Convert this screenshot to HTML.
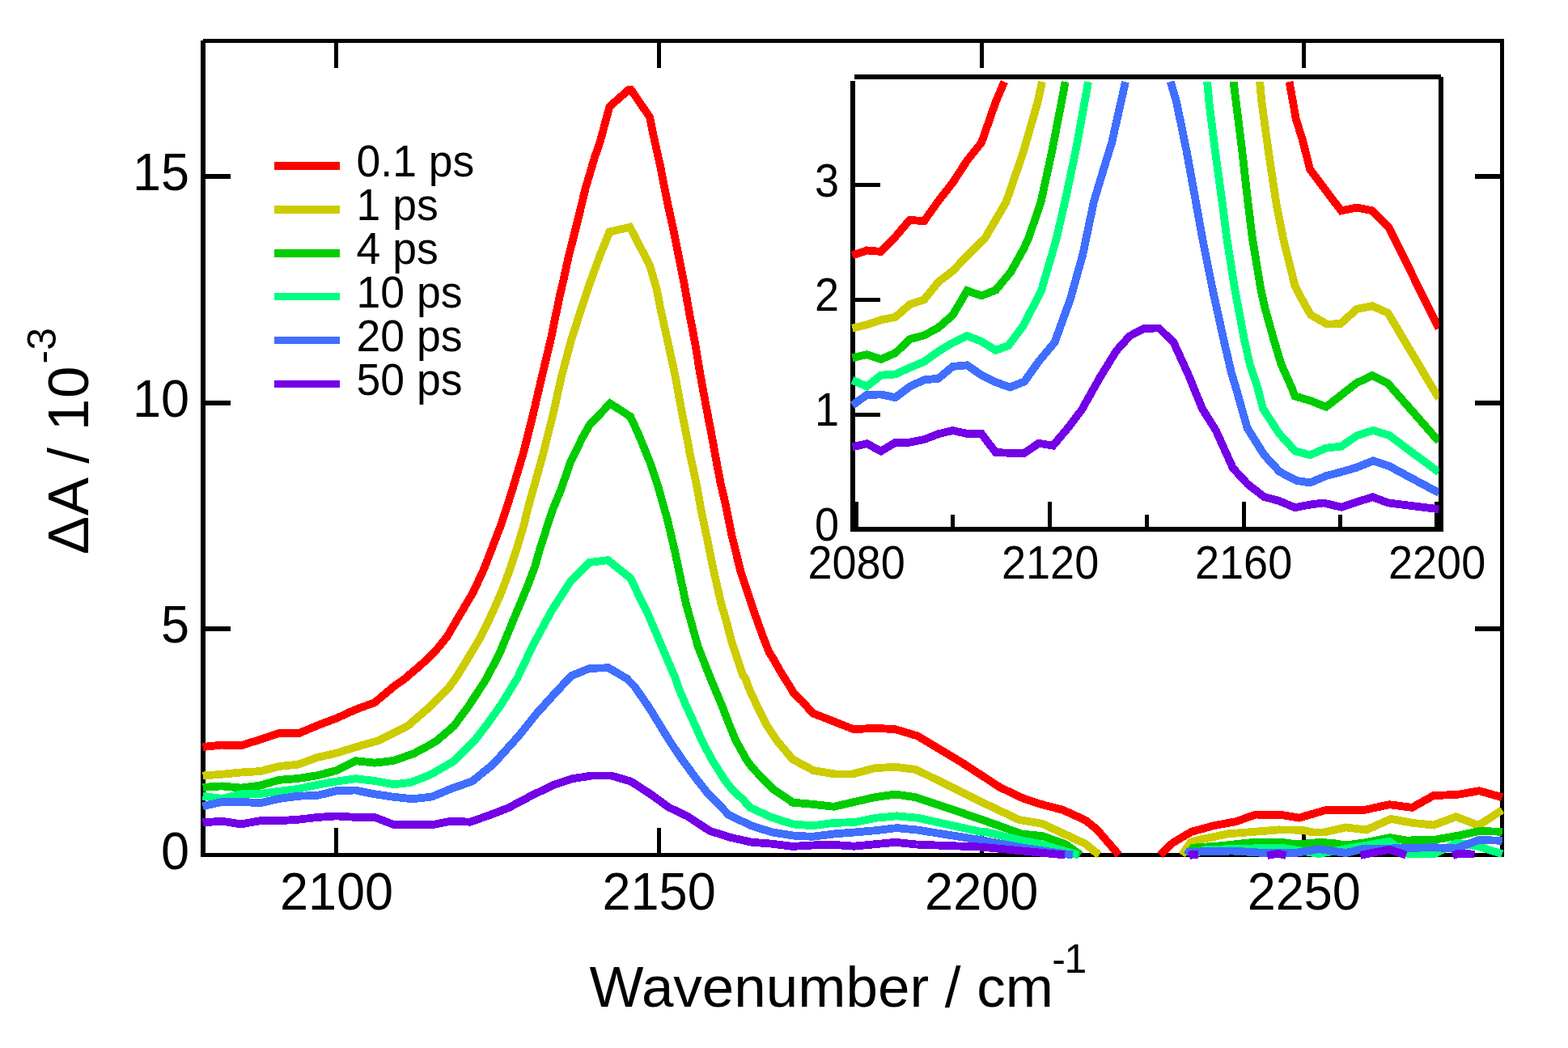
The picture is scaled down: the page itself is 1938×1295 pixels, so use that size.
<!DOCTYPE html>
<html><head><meta charset="utf-8"><title>Transient IR spectra</title>
<style>html,body{margin:0;padding:0;background:#fff;overflow:hidden}svg{display:block}</style>
</head><body>
<svg width="1938" height="1295" viewBox="0 0 1938 1295" shape-rendering="crispEdges"><rect x="0" y="0" width="1938" height="1295" fill="#fff"/>
<g fill="#000">
<rect x="248" y="50" width="6" height="1009"/>
<rect x="251" y="48" width="1608" height="5"/>
<rect x="1854" y="48" width="5" height="1011"/>
<rect x="248" y="1054" width="1611" height="5"/>
<rect x="413.3" y="1023" width="5" height="31"/>
<rect x="413.3" y="53" width="5" height="31"/>
<rect x="811.9" y="1023" width="5" height="31"/>
<rect x="811.9" y="53" width="5" height="31"/>
<rect x="1210.5" y="1023" width="5" height="31"/>
<rect x="1210.5" y="53" width="5" height="31"/>
<rect x="1609.1" y="1023" width="5" height="31"/>
<rect x="1609.1" y="53" width="5" height="31"/>
<rect x="254" y="774.0" width="31" height="6"/>
<rect x="1823" y="774.0" width="31" height="6"/>
<rect x="254" y="494.9" width="31" height="6"/>
<rect x="1823" y="494.9" width="31" height="6"/>
<rect x="254" y="214.9" width="31" height="6"/>
<rect x="1823" y="214.9" width="31" height="6"/>
</g>
<g fill="none" stroke-width="9.8" stroke-linejoin="miter" stroke-miterlimit="1.45" stroke-linecap="butt">
<polyline stroke="#ff0000" points="250.6,923.0 274.3,920.6 297.9,921.2 321.5,913.9 345.1,905.8 368.7,906.4 392.2,896.5 415.8,887.6 439.5,876.8 463.1,868.1 486.7,848.3 500.8,838.4 504.9,834.6 517.8,823.8 530.3,812.4 540.5,801.6 552.5,786.9 568.8,759.0 585.2,731.2 598.0,703.4 608.8,675.6 619.5,647.8 628.6,620.0 634.8,600.0 647.1,559.0 658.7,512.7 669.5,466.3 680.6,420.0 692.4,362.9 695.6,349.9 702.6,317.8 709.7,289.7 716.7,261.6 723.7,232.5 729.7,212.4 735.3,193.4 741.4,176.3 747.8,152.2 753.4,131.8 778.8,109.3 803.1,144.8 807.6,167.1 816.1,205.2 823.9,245.4 831.7,281.2 838.9,317.0 845.6,350.6 852.3,388.7 858.7,421.7 865.6,463.4 873.3,505.1 881.3,546.9 884.5,565.0 890.6,597.1 896.4,621.7 904.8,663.4 915.2,705.1 926.6,740.0 933.8,761.0 943.3,787.6 950.4,805.5 956.6,815.4 962.8,826.5 969.5,837.9 970.0,838.4 976.2,848.3 980.7,856.2 991.6,866.6 1004.3,881.2 1055.4,901.3 1081.1,899.7 1106.8,901.3 1133.8,909.3 1187.8,941.6 1235.1,972.4 1261.5,985.3 1285.1,993.4 1313.5,1000.8 1341.5,1013.5 1355.8,1025.0 1383.0,1056.5"/>
<polyline stroke="#ff0000" points="1433.9,1056.5 1449.5,1041.5 1472.4,1027.9 1500.3,1020.2 1526.9,1015.3 1552.3,1006.6 1583.3,1006.9 1605.6,1010.6 1637.4,1001.4 1663.4,1001.0 1685.7,1001.0 1717.3,994.2 1745.2,997.9 1771.8,983.1 1788.5,982.4 1803.4,981.6 1828.1,977.2 1856.6,985.3"/>
<polyline stroke="#cccc00" points="250.6,958.5 274.3,956.8 297.9,954.5 321.5,953.1 345.1,947.0 368.7,944.6 392.2,936.0 415.8,930.6 439.5,923.3 468.4,914.9 503.8,897.1 532.1,872.7 555.8,848.3 563.0,838.4 575.1,819.0 594.2,786.9 607.7,759.0 620.0,731.2 630.4,703.4 639.4,675.6 647.8,647.8 652.5,627.8 660.4,600.0 671.8,559.0 683.4,512.7 693.7,466.3 706.1,420.0 719.5,378.4 730.0,347.4 741.2,316.4 753.4,286.5 778.5,280.7 803.3,328.2 811.6,357.3 816.0,380.0 825.3,421.7 834.3,463.4 842.0,505.1 850.3,546.9 852.5,560.0 860.6,597.1 866.5,630.0 874.5,668.0 882.0,705.0 891.6,746.9 897.3,766.0 903.7,790.7 911.8,815.4 918.5,835.0 921.5,838.4 924.6,848.3 935.9,872.7 948.3,897.1 960.0,914.9 970.4,927.1 979.4,938.0 992.7,945.4 1005.3,952.0 1032.0,956.5 1054.1,956.4 1081.1,949.2 1106.8,947.7 1132.6,951.1 1211.3,990.2 1259.5,1013.0 1287.8,1017.7 1341.5,1042.7 1358.5,1056.5"/>
<polyline stroke="#cccc00" points="1460.7,1056.5 1471.8,1040.9 1478.6,1038.5 1517.6,1030.4 1580.8,1025.4 1608.7,1025.7 1622.9,1028.5 1636.2,1028.6 1663.4,1022.4 1688.8,1025.5 1719.2,1011.9 1746.4,1016.9 1771.8,1019.6 1799.7,1009.2 1827.5,1020.0 1856.6,1000.8"/>
<polyline stroke="#00cc00" points="250.6,972.9 274.3,971.4 297.9,973.6 321.5,970.6 345.1,963.8 368.7,962.0 392.2,958.2 415.8,952.1 439.5,940.2 463.1,942.7 486.7,939.9 511.5,931.1 532.1,920.1 540.4,914.9 561.0,897.1 579.0,872.7 595.0,848.3 601.3,838.4 617.5,807.3 635.2,764.5 651.9,724.6 661.2,700.0 666.8,680.0 682.6,630.9 693.4,604.9 704.9,571.5 719.8,540.8 729.0,524.6 754.1,498.6 779.2,514.8 789.4,537.1 803.4,571.5 813.6,602.1 824.7,641.1 833.9,680.0 838.1,700.0 847.9,746.0 862.7,798.9 878.2,838.4 882.4,848.3 892.6,872.7 902.0,897.1 909.4,914.9 923.0,939.3 929.8,948.5 944.2,963.7 956.6,975.9 975.1,988.2 979.2,991.6 1004.3,993.8 1030.6,996.8 1080.6,985.3 1107.1,981.5 1132.0,985.3 1211.3,1012.0 1263.1,1030.6 1288.5,1033.1 1317.0,1043.2 1335.5,1056.5"/>
<polyline stroke="#00cc00" points="1467.5,1056.5 1474.3,1047.7 1507.7,1045.3 1548.6,1040.9 1583.3,1040.6 1603.1,1043.4 1630.0,1041.0 1644.9,1041.6 1663.4,1044.4 1686.3,1041.4 1717.9,1035.2 1738.4,1038.5 1772.4,1037.9 1803.4,1032.4 1828.1,1027.0 1856.6,1027.8"/>
<polyline stroke="#00ff80" points="250.6,983.8 274.3,986.9 297.9,981.4 321.5,981.0 345.1,977.8 368.7,974.8 392.2,969.8 415.8,965.6 439.5,962.2 463.1,964.9 486.7,969.2 507.4,967.0 532.0,957.3 561.7,940.2 586.4,915.3 602.9,893.9 619.3,870.8 639.1,838.5 658.4,798.0 682.5,753.4 704.8,719.0 729.0,694.9 751.3,692.1 779.1,714.4 800.5,758.0 817.2,797.0 834.9,838.4 838.0,848.3 848.3,872.7 859.6,897.1 867.3,914.9 880.2,939.3 895.7,963.7 905.0,975.9 918.5,988.2 926.7,997.7 953.5,1009.9 980.0,1018.4 1004.3,1020.3 1030.6,1016.9 1055.7,1016.1 1082.1,1010.8 1108.4,1008.3 1134.8,1010.8 1211.3,1027.6 1217.6,1027.8 1261.0,1038.3 1285.1,1042.8 1333.0,1056.5"/>
<polyline stroke="#00ff80" points="1470.0,1056.5 1490.0,1050.0 1583.3,1047.5 1630.0,1055.0 1663.4,1049.1 1716.7,1039.8 1739.0,1054.6 1772.4,1055.3 1800.9,1041.6 1828.1,1046.0 1856.6,1055.3"/>
<polyline stroke="#406eff" points="250.6,996.1 274.3,991.0 297.9,990.8 321.5,992.3 345.1,987.0 368.7,983.7 392.2,983.0 415.8,977.2 439.5,976.5 463.1,981.3 486.7,984.8 510.3,987.3 533.9,984.5 557.4,974.7 583.7,965.4 609.4,944.5 618.0,935.0 641.6,908.8 662.6,882.5 686.3,856.3 706.2,835.0 729.0,825.8 752.2,825.3 774.5,838.4 784.3,848.3 801.2,872.7 816.3,897.1 827.1,914.9 843.6,939.3 861.7,963.7 874.5,980.0 882.8,988.2 900.9,1007.1 928.7,1020.3 954.4,1028.5 982.3,1032.8 1004.3,1033.8 1030.6,1030.5 1057.0,1028.4 1080.6,1026.4 1108.4,1023.1 1133.5,1025.5 1211.3,1037.9 1261.0,1047.0 1290.0,1051.5 1326.0,1056.5"/>
<polyline stroke="#406eff" points="1467.0,1056.5 1469.3,1052.7 1523.8,1051.5 1561.0,1053.9 1603.1,1053.7 1630.0,1049.1 1663.4,1054.0 1685.7,1048.7 1716.7,1048.5 1772.4,1047.2 1799.7,1048.5 1828.1,1037.9 1856.6,1038.8"/>
<polyline stroke="#7300e6" points="250.6,1016.4 274.3,1014.7 297.9,1018.4 321.5,1014.2 345.1,1014.2 368.7,1012.7 392.2,1010.0 415.8,1008.4 439.5,1009.9 463.1,1009.9 486.7,1019.0 510.3,1019.3 533.9,1019.3 557.4,1014.6 581.0,1015.7 604.6,1007.5 628.3,998.3 658.6,982.3 685.3,969.5 707.0,962.3 730.8,958.6 755.5,958.5 779.8,965.6 803.9,981.2 826.7,997.7 849.3,1008.4 877.2,1026.7 902.0,1034.6 928.7,1040.7 952.4,1042.5 979.2,1045.9 1004.3,1044.5 1026.5,1043.6 1055.7,1045.7 1080.6,1043.3 1107.1,1040.8 1133.5,1043.6 1211.3,1046.5 1316.2,1056.5"/>
<polyline stroke="#7300e6" points="1469.5,1057.5 1474.0,1055.6 1480.7,1055.6"/>
<polyline stroke="#7300e6" points="1566.2,1057.0 1580.0,1054.8 1589.5,1057.0"/>
<polyline stroke="#7300e6" points="1681.5,1056.8 1716.9,1049.7 1738.0,1056.8"/>
<polyline stroke="#7300e6" points="1795.5,1057.5 1801.6,1054.6 1822.5,1055.6"/>
</g>
<g font-family="'Liberation Sans', Arial, Helvetica, sans-serif" font-size="63" fill="#000">
<text transform="translate(416.0,1124) scale(1,1.035)" text-anchor="middle">2100</text>
<text transform="translate(814.6,1124) scale(1,1.035)" text-anchor="middle">2150</text>
<text transform="translate(1213.2,1124) scale(1,1.035)" text-anchor="middle">2200</text>
<text transform="translate(1611.8,1124) scale(1,1.035)" text-anchor="middle">2250</text>
<text transform="translate(234,1073.6) scale(1,1.035)" text-anchor="end">0</text>
<text transform="translate(234,794.1) scale(1,1.035)" text-anchor="end">5</text>
<text transform="translate(234,515.0) scale(1,1.035)" text-anchor="end">10</text>
<text transform="translate(234,235.0) scale(1,1.035)" text-anchor="end">15</text>
</g>
<text x="728.5" y="1244" font-family="'Liberation Sans', Arial, Helvetica, sans-serif" font-size="71">Wavenumber / cm</text>
<text x="1300.3" y="1202" font-family="'Liberation Sans', Arial, Helvetica, sans-serif" font-size="50" letter-spacing="-1.5">-1</text>
<text transform="translate(108.9,685.2) rotate(-90)" font-family="'Liberation Sans', Arial, Helvetica, sans-serif" font-size="71" letter-spacing="0.6">&#916;A / 10</text>
<text transform="translate(68.5,449.5) rotate(-90)" font-family="'Liberation Sans', Arial, Helvetica, sans-serif" font-size="50">-3</text>
<rect x="339" y="200.00" width="81" height="9.7" fill="#ff0000"/>
<text transform="translate(440.6,218.2) scale(1,1.035)" font-family="'Liberation Sans', Arial, Helvetica, sans-serif" font-size="53.5">0.1 ps</text>
<rect x="339" y="253.90" width="81" height="9.7" fill="#cccc00"/>
<text transform="translate(440.6,272.1) scale(1,1.035)" font-family="'Liberation Sans', Arial, Helvetica, sans-serif" font-size="53.5">1 ps</text>
<rect x="339" y="307.80" width="81" height="9.7" fill="#00cc00"/>
<text transform="translate(440.6,325.9) scale(1,1.035)" font-family="'Liberation Sans', Arial, Helvetica, sans-serif" font-size="53.5">4 ps</text>
<rect x="339" y="361.70" width="81" height="9.7" fill="#00ff80"/>
<text transform="translate(440.6,379.8) scale(1,1.035)" font-family="'Liberation Sans', Arial, Helvetica, sans-serif" font-size="53.5">10 ps</text>
<rect x="339" y="415.60" width="81" height="9.7" fill="#406eff"/>
<text transform="translate(440.6,433.8) scale(1,1.035)" font-family="'Liberation Sans', Arial, Helvetica, sans-serif" font-size="53.5">20 ps</text>
<rect x="339" y="469.50" width="81" height="9.7" fill="#7300e6"/>
<text transform="translate(440.6,487.7) scale(1,1.035)" font-family="'Liberation Sans', Arial, Helvetica, sans-serif" font-size="53.5">50 ps</text>
<rect x="1057" y="98" width="721" height="553" fill="#fff"/>
<g fill="#000">
<rect x="1051" y="100" width="6" height="557"/>
<rect x="1056" y="92" width="725" height="6"/>
<rect x="1778" y="95" width="6" height="562"/>
<rect x="1051" y="651" width="733" height="6"/>
<rect x="1055.5" y="620" width="5" height="31"/>
<rect x="1175.1" y="636" width="5" height="15"/>
<rect x="1295.0" y="620" width="5" height="31"/>
<rect x="1414.5" y="636" width="5" height="15"/>
<rect x="1534.5" y="620" width="5" height="31"/>
<rect x="1653.7" y="636" width="5" height="15"/>
<rect x="1773.1" y="620" width="5" height="31"/>
<rect x="1057" y="509.8" width="31" height="5"/>
<rect x="1057" y="368.0" width="31" height="5"/>
<rect x="1057" y="226.1" width="31" height="5"/>
</g>
<defs><clipPath id="ic"><rect x="1040" y="99" width="738.5" height="570"/></clipPath></defs>
<g clip-path="url(#ic)" fill="none" stroke-width="9.8" stroke-linejoin="miter" stroke-miterlimit="1.45" stroke-linecap="butt">
<polyline stroke="#ff0000" points="1053.5,315.5 1071.3,309.4 1089.0,311.0 1106.7,292.5 1124.4,271.8 1142.1,273.3 1159.8,248.3 1177.5,225.8 1195.3,198.4 1213.0,176.3 1230.7,126.0 1241.3,101.0"/>
<polyline stroke="#ff0000" points="1593.5,101.0 1598.1,126.0 1601.5,146.1 1609.7,172.4 1619.2,209.5 1657.6,260.4 1676.9,256.5 1696.2,260.4 1716.4,280.7 1757.0,362.7 1778.5,406.0"/>
<polyline stroke="#cccc00" points="1053.5,405.6 1071.3,401.2 1089.0,395.3 1106.7,391.8 1124.4,376.3 1142.1,370.3 1159.8,348.4 1177.5,334.8 1195.3,316.2 1217.0,295.0 1243.5,249.8 1264.8,187.9 1282.6,126.0 1288.0,101.0"/>
<polyline stroke="#cccc00" points="1557.1,101.0 1559.4,126.0 1567.9,187.9 1577.2,249.8 1586.0,295.0 1593.8,326.0 1600.5,353.5 1610.5,372.4 1620.0,389.0 1640.0,400.5 1656.6,400.3 1676.9,382.0 1696.2,378.1 1715.5,386.8 1774.6,486.0 1778.5,492.0"/>
<polyline stroke="#00cc00" points="1053.5,442.1 1071.3,438.2 1089.0,443.9 1106.7,436.2 1124.4,419.1 1142.1,414.5 1159.8,404.9 1177.5,389.4 1195.3,359.2 1213.0,365.4 1230.7,358.5 1249.3,336.0 1264.8,308.2 1271.0,295.0 1286.5,249.8 1300.0,187.9 1312.0,126.0 1316.7,101.0"/>
<polyline stroke="#00cc00" points="1524.6,101.0 1527.7,126.0 1535.4,187.9 1542.4,249.8 1548.0,295.0 1558.2,356.9 1563.3,380.1 1574.1,418.8 1583.4,449.8 1597.3,480.8 1600.4,489.5 1619.2,495.0 1639.0,502.8 1676.5,473.4 1696.4,464.0 1715.1,473.4 1774.6,541.2 1778.5,545.0"/>
<polyline stroke="#00ff80" points="1053.5,469.8 1071.3,477.5 1089.0,463.6 1106.7,462.5 1124.4,454.4 1142.1,447.0 1159.8,434.3 1177.5,423.5 1195.3,415.0 1213.0,421.9 1230.7,432.8 1246.2,427.2 1264.7,402.5 1287.0,359.2 1305.5,295.9 1317.9,241.8 1330.2,183.1 1345.1,101.2"/>
<polyline stroke="#00ff80" points="1492.1,101.0 1494.4,126.0 1502.1,187.9 1510.6,249.8 1516.4,295.0 1526.1,356.9 1537.7,418.8 1544.7,449.8 1554.8,480.8 1561.0,504.9 1581.1,535.9 1601.0,557.5 1619.2,562.3 1639.0,553.7 1657.8,551.6 1677.6,538.1 1697.4,531.8 1717.2,538.1 1774.6,580.8 1778.5,583.5"/>
<polyline stroke="#406eff" points="1053.5,501.0 1071.3,487.9 1089.0,487.5 1106.7,491.2 1124.4,477.8 1142.1,469.4 1159.8,467.7 1177.5,452.9 1195.3,451.3 1213.0,463.5 1230.7,472.3 1248.4,478.5 1266.1,471.5 1283.8,446.7 1303.5,423.0 1322.8,370.0 1338.3,314.4 1351.9,249.5 1362.1,215.5 1374.4,175.3 1391.0,101.2"/>
<polyline stroke="#406eff" points="1446.7,101.0 1454.1,126.0 1466.8,187.9 1478.1,249.8 1486.2,295.0 1498.6,356.9 1512.2,418.8 1521.8,460.0 1528.0,480.8 1541.6,528.9 1562.5,562.2 1581.8,583.1 1602.7,593.9 1619.2,596.5 1639.0,588.1 1658.8,582.9 1676.5,577.7 1697.4,569.4 1716.2,575.6 1774.6,606.9 1778.5,609.0"/>
<polyline stroke="#7300e6" points="1053.5,552.4 1071.3,548.2 1089.0,557.5 1106.7,546.7 1124.4,546.7 1142.1,543.1 1159.8,536.2 1177.5,532.0 1195.3,535.9 1213.0,535.9 1230.7,559.1 1248.4,559.8 1266.1,559.8 1283.8,547.8 1301.5,550.6 1319.2,529.7 1337.0,506.4 1359.7,466.0 1379.8,433.5 1396.1,415.3 1413.9,405.8 1432.5,405.5 1450.7,423.5 1468.8,463.0 1485.9,504.9 1502.9,532.0 1523.8,578.4 1542.4,598.5 1562.5,614.0 1580.3,618.7 1600.4,627.2 1619.2,623.6 1635.9,621.5 1657.8,626.7 1676.5,620.5 1696.4,614.2 1716.2,621.5 1774.6,628.8 1778.5,629.0"/>
</g>
<g font-family="'Liberation Sans', Arial, Helvetica, sans-serif" font-size="54" fill="#000">
<text transform="translate(1058.6,715) scale(1,1.05)" text-anchor="middle">2080</text>
<text transform="translate(1298.1,715) scale(1,1.05)" text-anchor="middle">2120</text>
<text transform="translate(1537.1,715) scale(1,1.05)" text-anchor="middle">2160</text>
<text transform="translate(1776.1,715) scale(1,1.05)" text-anchor="middle">2200</text>
<text transform="translate(1037,667.8) scale(1,1.05)" text-anchor="end">0</text>
<text transform="translate(1037,526.0) scale(1,1.05)" text-anchor="end">1</text>
<text transform="translate(1037,384.2) scale(1,1.05)" text-anchor="end">2</text>
<text transform="translate(1037,242.5) scale(1,1.05)" text-anchor="end">3</text>
</g></svg>
</body></html>
